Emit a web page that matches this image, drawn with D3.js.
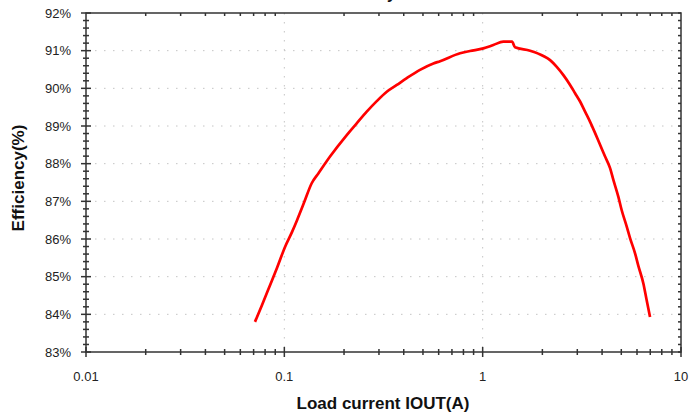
<!DOCTYPE html>
<html><head><meta charset="utf-8">
<script src="https://cdn.jsdelivr.net/npm/d3@7"></script>
<style>body{margin:0;background:#fff}svg{display:block}</style>
</head><body>
<svg id="c" width="692" height="420"></svg>
<script>
const current = [0.0711,0.0772,0.0848,0.0918,0.1008,0.1094,0.1159,0.1256,0.1374,0.1484,0.170,0.2064,0.2317,0.2603,0.2924,0.3285,0.369,0.4143,0.483,0.5642,0.610,0.769,0.863,1.008,1.132,1.271,1.406,1.456,1.734,2.023,2.188,2.364,2.553,2.759,2.924,3.099,3.284,3.481,3.690,3.908,4.142,4.389,4.56,4.833,5.02,5.326,5.53,5.866,6.10,6.46,6.71,6.98];
const efficiency = [83.80,84.25,84.78,85.23,85.79,86.19,86.50,86.96,87.48,87.74,88.19,88.76,89.07,89.38,89.66,89.91,90.09,90.27,90.49,90.66,90.72,90.93,90.99,91.06,91.15,91.24,91.24,91.09,91.00,90.86,90.75,90.57,90.35,90.09,89.87,89.65,89.38,89.11,88.81,88.50,88.19,87.88,87.57,87.12,86.77,86.33,86.03,85.62,85.28,84.82,84.38,83.93];
const xTickValues = [0.01,0.1,1,10];
const xTickLabels = ["0.01","0.1","1","10"];
const yTickValues = [83,84,85,86,87,88,89,90,91,92];
const yTickLabels = ["83%","84%","85%","86%","87%","88%","89%","90%","91%","92%"];

const svg = d3.select("#c");
const L=86,R=681,T=13,B=352;
const x = d3.scaleLog().domain([0.01,10]).range([L,R]);
const y = d3.scaleLinear().domain([83,92]).range([B,T]);
const axisColor="#333";
const font="'Liberation Sans', Arial, sans-serif";

// grid
const g = svg.append("g");
g.selectAll(".hg").data(yTickValues.slice(1,-1)).enter().append("line")
 .attr("x1",L).attr("x2",R).attr("y1",d=>y(d)).attr("y2",d=>y(d))
 .attr("stroke","#c4c4c4").attr("stroke-width",1).attr("stroke-dasharray","1.5,7.5");
g.selectAll(".vg").data(xTickValues.slice(1,-1)).enter().append("line")
 .attr("y1",T).attr("y2",B).attr("x1",d=>x(d)).attr("x2",d=>x(d))
 .attr("stroke","#c4c4c4").attr("stroke-width",1).attr("stroke-dasharray","1.5,7.5");

// minor ticks
const minorX=[];
[0.01,0.1,1].forEach(d=>{for(let k=2;k<10;k++)minorX.push(d*k);});
const minorY=[];
for(let v=83;v<92;v+=1){for(let k=1;k<5;k++)minorY.push(v+k*0.2);}

const ax = svg.append("g").attr("stroke",axisColor).attr("stroke-width",1.5);
ax.selectAll(".bm").data(minorX).enter().append("line")
 .attr("x1",d=>x(d)).attr("x2",d=>x(d)).attr("y1",B-3).attr("y2",B+3);
ax.selectAll(".tm").data(minorX).enter().append("line")
 .attr("x1",d=>x(d)).attr("x2",d=>x(d)).attr("y1",T).attr("y2",T+3);
ax.selectAll(".bM").data(xTickValues).enter().append("line")
 .attr("x1",d=>x(d)).attr("x2",d=>x(d)).attr("y1",B-5).attr("y2",B+5);
ax.selectAll(".lm").data(minorY).enter().append("line")
 .attr("x1",L-3).attr("x2",L+3).attr("y1",d=>y(d)).attr("y2",d=>y(d));
ax.selectAll(".lM").data(yTickValues).enter().append("line")
 .attr("x1",L-5).attr("x2",L+5).attr("y1",d=>y(d)).attr("y2",d=>y(d));
ax.selectAll(".rm").data(minorY.concat(yTickValues)).enter().append("line")
 .attr("x1",R-3).attr("x2",R).attr("y1",d=>y(d)).attr("y2",d=>y(d));
ax.append("rect").attr("x",L).attr("y",T).attr("width",R-L).attr("height",B-T).attr("fill","none");

// curve
svg.append("path").datum(current.map((c,i)=>[c,efficiency[i]]))
 .attr("fill","none").attr("stroke","#ff0000").attr("stroke-width",2.7)
 .attr("stroke-linejoin","round")
 .attr("d",d3.line().curve(d3.curveMonotoneX).x(d=>x(d[0])).y(d=>y(d[1])));

// tick labels
svg.append("g").selectAll("text").data(yTickValues).enter().append("text")
 .attr("x",71).attr("y",d=>y(d)+4.5).attr("text-anchor","end")
 .attr("font-family",font).attr("font-size",13).attr("fill","#222")
 .text((d,i)=>yTickLabels[i]);
svg.append("g").selectAll("text").data(xTickValues).enter().append("text")
 .attr("x",d=>x(d)).attr("y",381).attr("text-anchor","middle")
 .attr("font-family",font).attr("font-size",13).attr("fill","#222")
 .text((d,i)=>xTickLabels[i]);

// titles
svg.append("text").attr("x",383).attr("y",409).attr("text-anchor","middle")
 .attr("font-family",font).attr("font-size",17).attr("font-weight","bold").attr("fill","#111")
 .text("Load current IOUT(A)");
svg.append("text").attr("transform","translate(24,178) rotate(-90)").attr("text-anchor","middle")
 .attr("font-family",font).attr("font-size",17).attr("font-weight","bold").attr("fill","#111")
 .text("Efficiency(%)");
svg.append("text").attr("x",396).attr("y",-1).attr("text-anchor","end")
 .attr("font-family",font).attr("font-size",16).attr("font-weight","bold").attr("fill","#111")
 .text("Efficiency");
</script>
</body></html>
